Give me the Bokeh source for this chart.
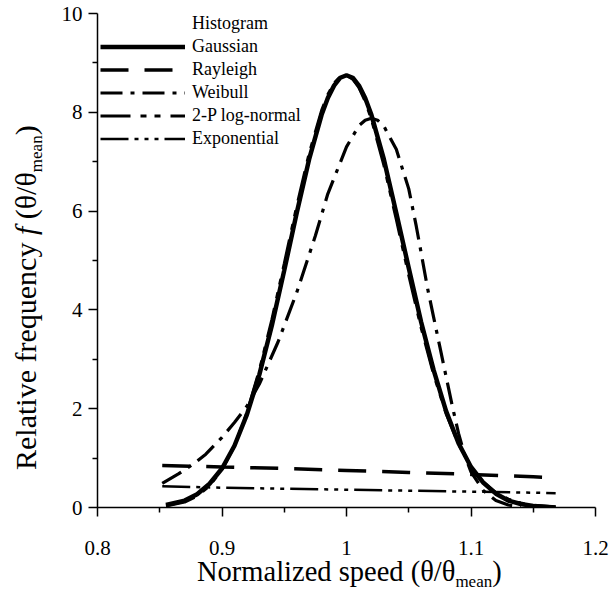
from bokeh.plotting import figure
from bokeh.models import Range1d, FixedTicker, CustomJSTickFormatter, Legend, LegendItem, Div
from bokeh.layouts import row, column
from bokeh.embed import file_html
from bokeh.resources import INLINE

# ---- data ----
x_ticks = [0.8, 0.9, 1.0, 1.1, 1.2]
x_minor = [0.85, 0.95, 1.05, 1.15]
y_ticks = [0, 2, 4, 6, 8, 10]
y_minor = [1, 3, 5, 7, 9]

gauss_x = [0.855, 0.87, 0.88, 0.89, 0.90, 0.91, 0.92, 0.93, 0.94, 0.95, 0.96, 0.97, 0.98, 0.985, 0.99,
           0.995, 1.00, 1.005, 1.01, 1.015, 1.02, 1.03, 1.04, 1.05, 1.06, 1.07, 1.08, 1.09, 1.10, 1.11,
           1.12, 1.13, 1.14, 1.15, 1.168]
gauss_y = [0.05, 0.14, 0.27, 0.48, 0.79, 1.25, 1.88, 2.69, 3.68, 4.80, 5.96, 7.05, 7.95, 8.29, 8.54,
           8.70, 8.75, 8.70, 8.54, 8.29, 7.95, 7.05, 5.96, 4.85, 3.75, 2.78, 1.95, 1.30, 0.82, 0.50,
           0.28, 0.14, 0.07, 0.03, 0.0]

lognorm_x = gauss_x
lognorm_y = [0.03, 0.11, 0.23, 0.44, 0.76, 1.25, 1.92, 2.78, 3.80, 4.94, 6.10, 7.17, 8.04, 8.36, 8.59,
             8.72, 8.75, 8.67, 8.50, 8.22, 7.86, 6.93, 5.83, 4.70, 3.63, 2.69, 1.90, 1.28, 0.83, 0.51,
             0.30, 0.17, 0.09, 0.05, 0.01]

weib_x = [0.852, 0.865, 0.877, 0.887, 0.90, 0.91, 0.92, 0.93, 0.945, 0.96, 0.975, 0.985, 1.0, 1.01, 1.015,
          1.02, 1.025, 1.03, 1.04, 1.05, 1.056, 1.06, 1.065, 1.07, 1.075, 1.08, 1.085, 1.09, 1.095, 1.10,
          1.11, 1.12, 1.13, 1.14]
weib_y = [0.49, 0.68, 0.88, 1.08, 1.42, 1.72, 2.05, 2.50, 3.35, 4.35, 5.50, 6.35, 7.30, 7.73, 7.84,
          7.88, 7.84, 7.72, 7.25, 6.45, 5.70, 5.15, 4.45, 3.85, 3.25, 2.65, 2.05, 1.50, 1.05, 0.72,
          0.34, 0.14, 0.05, 0.01]

rayl_x = [0.852, 0.90, 0.95, 1.0, 1.05, 1.10, 1.15, 1.168]
rayl_y = [0.85, 0.82, 0.79, 0.75, 0.71, 0.67, 0.62, 0.60]

expo_x = [0.852, 0.90, 0.95, 1.0, 1.05, 1.10, 1.15, 1.168]
expo_y = [0.43, 0.40, 0.38, 0.36, 0.34, 0.32, 0.30, 0.29]

hist_x = []
hist_y = []

FONT = "Liberation Serif"

p = figure(width=559, height=558, output_backend="svg", toolbar_location=None,
           x_range=Range1d(0.8, 1.2), y_range=Range1d(0, 10),
           min_border_left=47, min_border_right=14, min_border_top=13, min_border_bottom=51)
p.xgrid.visible = False
p.ygrid.visible = False
p.outline_line_color = None
p.background_fill_color = "white"
p.border_fill_color = "white"

for ax in (p.xaxis[0], p.yaxis[0]):
    ax.axis_line_color = "black"
    ax.axis_line_width = 1.5
    ax.major_tick_line_color = "black"
    ax.minor_tick_line_color = "black"
    ax.major_tick_line_width = 1.5
    ax.minor_tick_line_width = 1.5
    ax.major_tick_in = 0
    ax.major_tick_out = 9
    ax.minor_tick_in = 0
    ax.minor_tick_out = 5
    ax.major_label_text_font = FONT
    ax.major_label_text_font_size = "21px"
    ax.major_label_text_color = "black"

p.xaxis[0].ticker = FixedTicker(ticks=x_ticks, minor_ticks=x_minor)
p.xaxis[0].formatter = CustomJSTickFormatter(code="return String(Number(tick.toFixed(2)));")
p.xaxis[0].major_label_standoff = 24
p.yaxis[0].ticker = FixedTicker(ticks=y_ticks, minor_ticks=y_minor)
p.yaxis[0].major_label_standoff = 6

r_hist = p.line(hist_x, hist_y, line_alpha=0)
r_gauss = p.line(gauss_x, gauss_y, line_color="black", line_width=4.5)
r_rayl = p.line(rayl_x, rayl_y, line_color="black", line_width=3.5, line_dash="28 16")
r_weib = p.line(weib_x, weib_y, line_color="black", line_width=3.2, line_dash="22 8 4 8")
r_logn = p.line(lognorm_x, lognorm_y, line_color="black", line_width=3, line_dash="30 10 6 8 6 10")
r_expo = p.line(expo_x, expo_y, line_color="black", line_width=2.5, line_dash="28 6 4 6 4 6 4 6")

legend = Legend(items=[
    LegendItem(label="Histogram", renderers=[r_hist]),
    LegendItem(label="Gaussian", renderers=[r_gauss]),
    LegendItem(label="Rayleigh", renderers=[r_rayl]),
    LegendItem(label="Weibull", renderers=[r_weib]),
    LegendItem(label="2-P log-normal", renderers=[r_logn]),
    LegendItem(label="Exponential", renderers=[r_expo]),
], location=(3, 357))
legend.padding = 0
legend.margin = 0
legend.spacing = 0
legend.glyph_width = 85
legend.glyph_height = 23
legend.label_height = 23
legend.label_standoff = 7
legend.label_text_font = FONT
legend.label_text_font_size = "18px"
legend.label_text_color = "black"
legend.border_line_alpha = 0
legend.background_fill_alpha = 0
p.add_layout(legend)

xbase = "font-family:'Liberation Serif'; font-size:28.5px; line-height:28px; color:black; white-space:nowrap;"
ybase = "font-family:'Liberation Serif'; font-size:30px; line-height:30px; color:black; white-space:nowrap;"
xsub = "font-size:17px; vertical-align:-6px; line-height:0;"
ysub = "font-size:17px; vertical-align:-6px; line-height:0;"

x_title = Div(
    text=f'<div style="position:relative; width:559px; height:32px;">'
         f'<div style="position:absolute; left:147px; top:0px; {xbase}">'
         f'Normalized speed (θ/θ<span style="{xsub}">mean</span>)</div></div>',
    width=559, height=32, margin=0)

y_title = Div(
    text=f'<div style="position:relative; width:50px; height:590px;">'
         f'<div style="position:absolute; left:11px; top:470px; transform-origin:0 0; '
         f'transform:rotate(-90deg); {ybase}">'
         f'Relative frequency <i>f</i> (θ/θ<span style="{ysub}">mean</span>)</div></div>',
    width=50, height=590, margin=0)

layout = row(y_title, column(p, x_title, spacing=0), spacing=0)

open("out.html", "w").write(file_html(layout, INLINE))
